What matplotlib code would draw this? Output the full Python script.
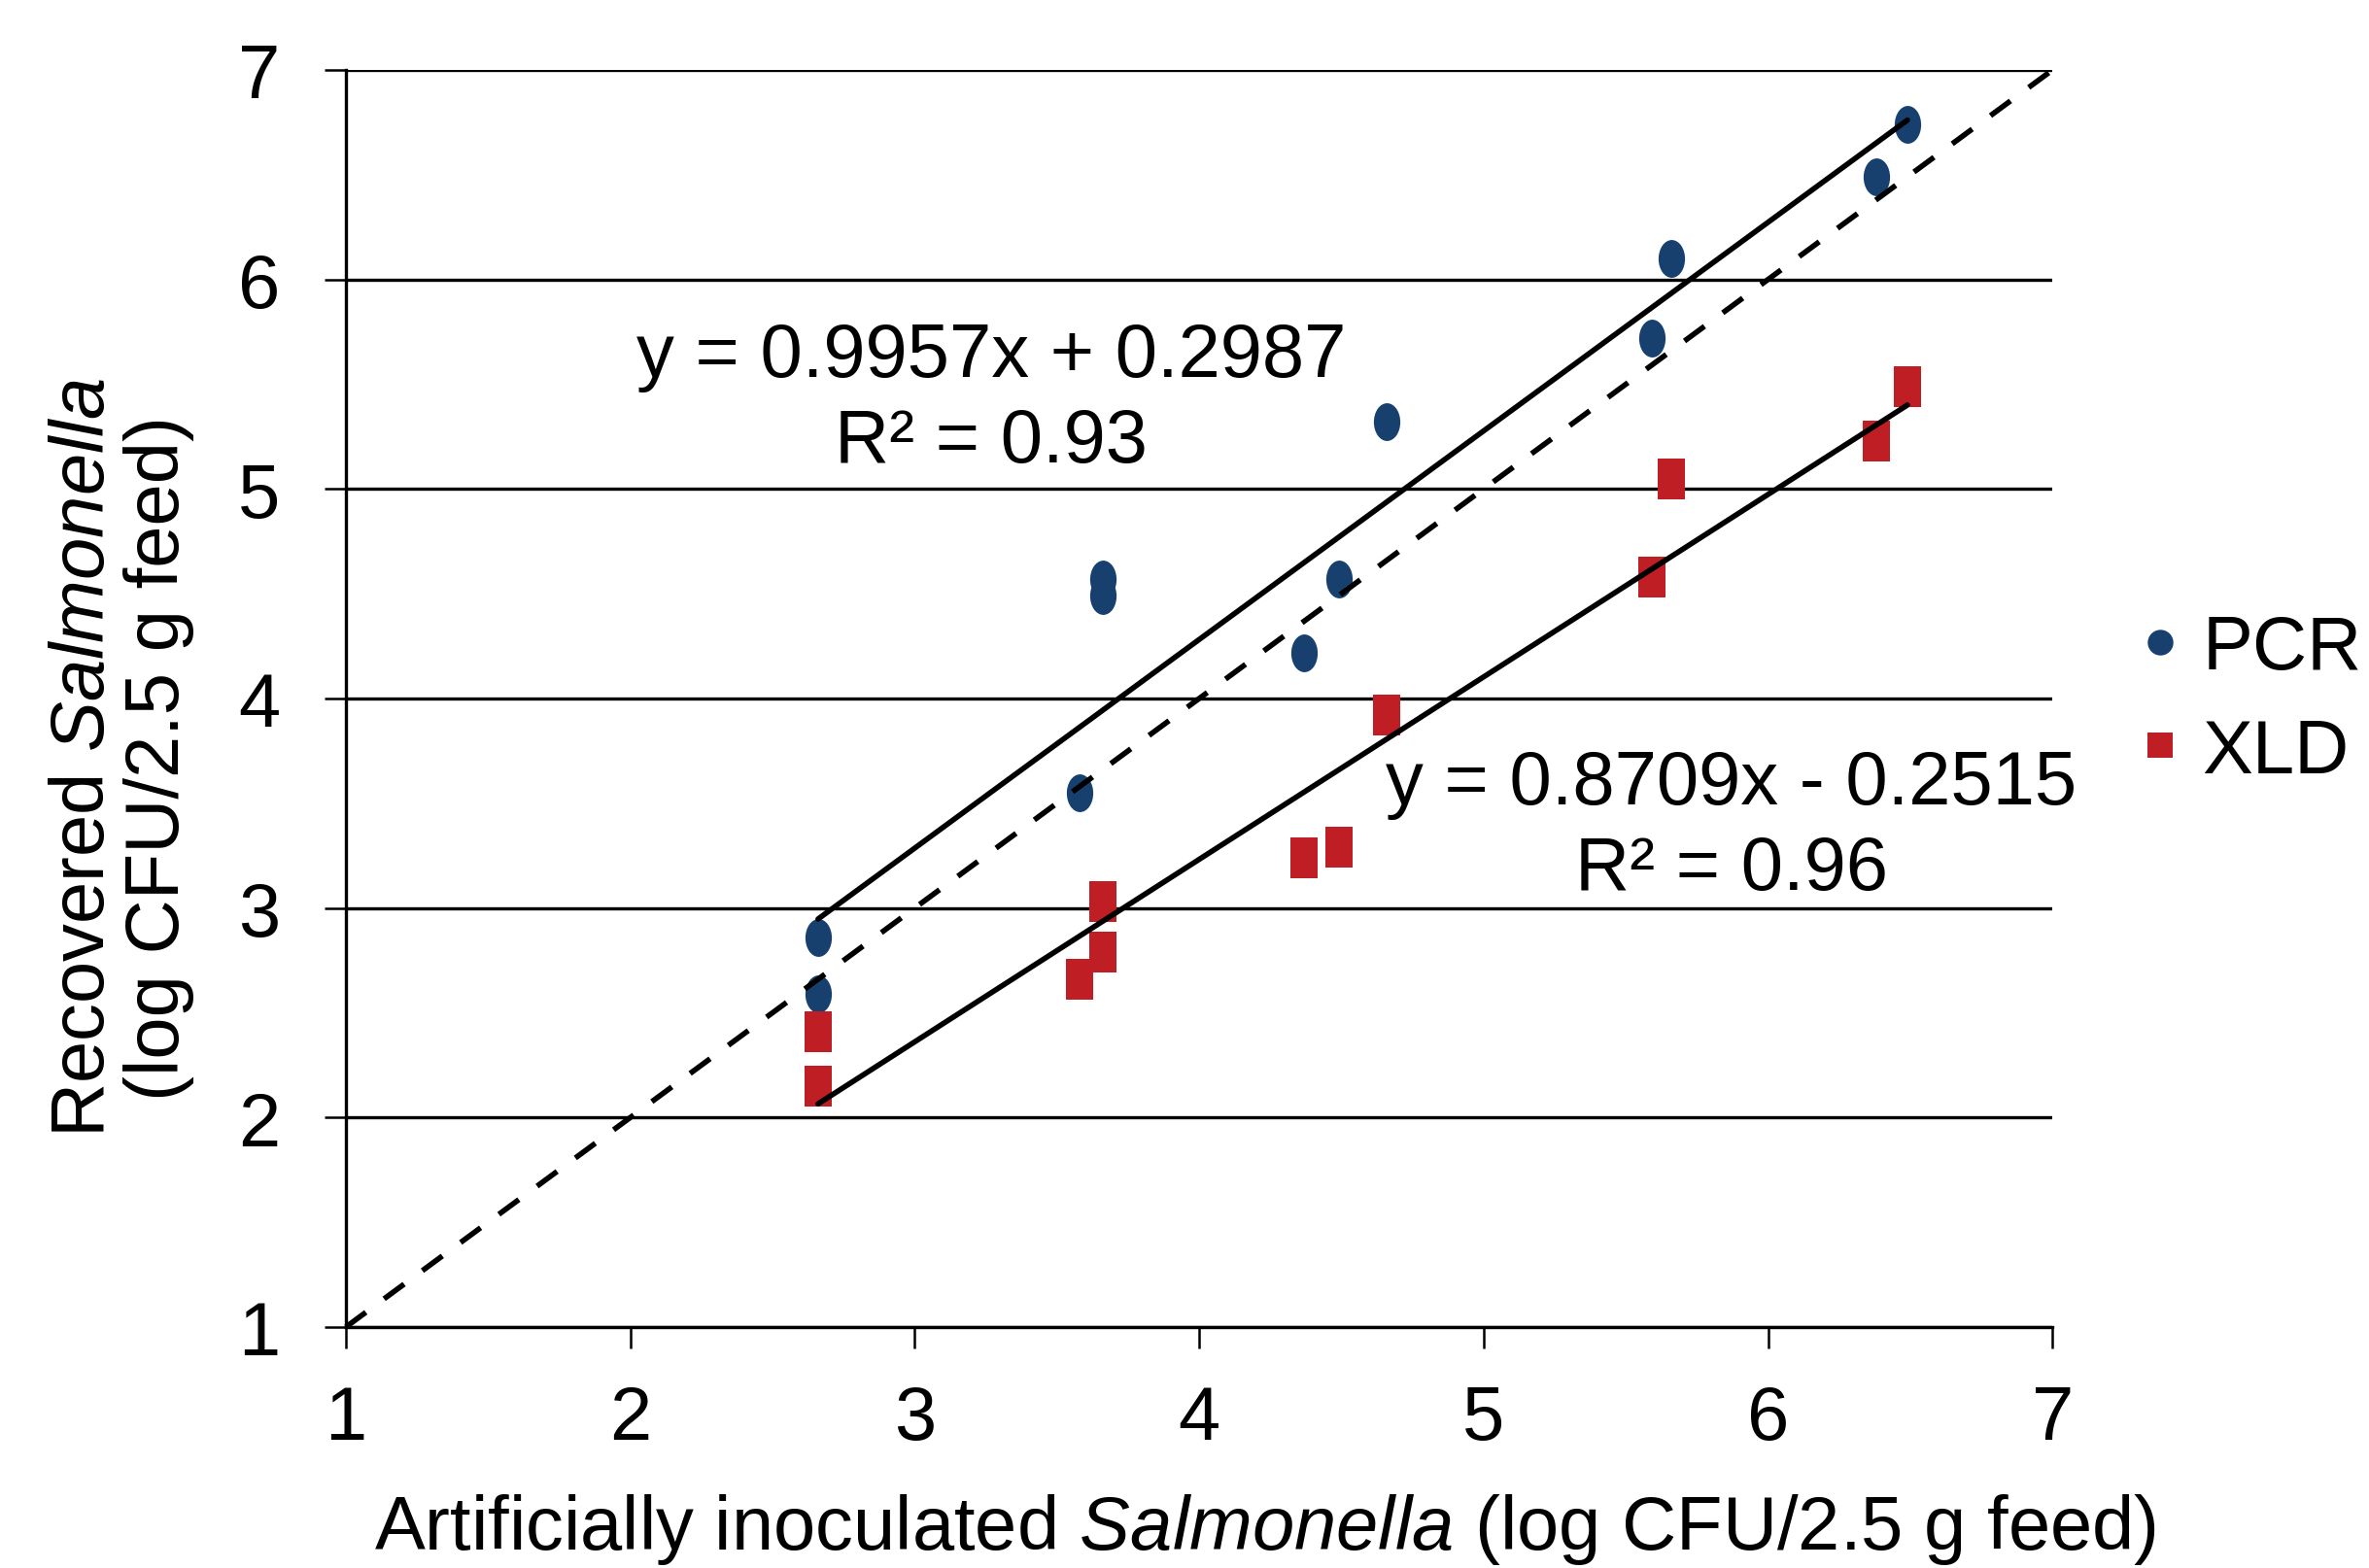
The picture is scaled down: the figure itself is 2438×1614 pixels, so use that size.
import matplotlib
matplotlib.use('Agg')
import matplotlib.pyplot as plt
from matplotlib.path import Path
from matplotlib.transforms import Affine2D
from matplotlib.lines import Line2D
import numpy as np

plt.rcParams['font.family'] = 'Liberation Sans'
plt.rcParams['mathtext.fontset'] = 'custom'
plt.rcParams['mathtext.rm'] = 'Liberation Sans'
plt.rcParams['mathtext.it'] = 'Liberation Sans:italic'

# data (log CFU / 2.5 g feed)
inoculated = [2.66, 2.66, 3.58, 3.66, 3.66, 4.37, 4.49, 4.66, 5.59, 5.66, 6.38, 6.49]
pcr = [2.86, 2.59, 3.55, 4.57, 4.49, 4.22, 4.57, 5.32, 5.72, 6.10, 6.49, 6.74]
xld = [2.41, 2.15, 2.66, 3.03, 2.79, 3.24, 3.29, 3.92, 4.58, 5.05, 5.23, 5.49]
pcr_fit = [0.9957, 0.2987]
xld_fit = [0.8709, -0.2515]
pcr_r2 = 0.93
xld_r2 = 0.96
ticks = [1, 2, 3, 4, 5, 6, 7]

pcr_color = '#17406F'
xld_color = '#BE1E24'
fs = 56

# markers in the reference are stretched vertically
ellipse = Path.unit_circle().transformed(Affine2D().scale(0.7, 1.0))
rect = Path([(-0.33, -0.5), (0.33, -0.5), (0.33, 0.5), (-0.33, 0.5), (-0.33, -0.5)],
            [Path.MOVETO, Path.LINETO, Path.LINETO, Path.LINETO, Path.CLOSEPOLY])

fig = plt.figure(figsize=(24.38, 16.15), dpi=100)
ax = fig.add_axes([0.146, 0.1536, 0.7204, 0.8012])

ax.set_xlim(1, 7)
ax.set_ylim(1, 7)
ax.set_xticks(ticks)
ax.set_yticks(ticks)
ax.yaxis.grid(True, color='black', linewidth=2.4, zorder=0)
ax.set_axisbelow(True)
for s in ['top', 'right']:
    ax.spines[s].set_visible(False)
for s in ['left', 'bottom']:
    ax.spines[s].set_linewidth(2.4)
ax.tick_params(axis='both', length=16, width=1.8, direction='out', labelsize=fs)
ax.tick_params(axis='x', pad=26)
ax.tick_params(axis='y', pad=33)

# 1:1 line
ax.plot([1, 7], [1, 7], color='black', lw=4, dashes=(4.6, 4.2), zorder=3, clip_on=False)

ax.plot(inoculated, pcr, linestyle='none', marker=ellipse, markersize=28,
        color=pcr_color, markeredgewidth=0, zorder=2)
ax.plot(inoculated, xld, linestyle='none', marker=rect, markersize=30,
        color=xld_color, markeredgewidth=0, zorder=2)

xs = np.array([min(inoculated), max(inoculated)])
ax.plot(xs, pcr_fit[0] * xs + pcr_fit[1], color='black', lw=4, solid_capstyle='round', zorder=3)
ax.plot(xs, xld_fit[0] * xs + xld_fit[1], color='black', lw=4, solid_capstyle='round', zorder=3)

ax.text(3.27, 5.43, 'y = %.4fx + %.4f\nR² = %.2f' % (pcr_fit[0], pcr_fit[1], pcr_r2),
        fontsize=fs, ha='center', va='center', multialignment='center', linespacing=1.25)
ax.text(5.87, 3.39, 'y = %.4fx - %.4f\nR² = %.2f' % (xld_fit[0], -xld_fit[1], xld_r2),
        fontsize=fs, ha='center', va='center', multialignment='center', linespacing=1.25)

fig.text(0.534, 0.025, r'Artificially inoculated $\mathit{Salmonella}$ (log CFU/2.5 g feed)',
         fontsize=fs, ha='center', va='center')
fig.text(0.0353, 0.517, r'Recovered $\mathit{Salmonella}$', fontsize=fs,
         rotation=90, ha='center', va='center')
fig.text(0.0669, 0.517, '(log CFU/2.5 g feed)', fontsize=fs,
         rotation=90, ha='center', va='center')

handles = [Line2D([], [], linestyle='none', marker='o', markersize=19, color=pcr_color, markeredgewidth=0),
           Line2D([], [], linestyle='none', marker='s', markersize=19, color=xld_color, markeredgewidth=0)]
fig.legend(handles, ['PCR', 'XLD'], loc='center left', bbox_to_anchor=(0.904, 0.553),
           frameon=False, fontsize=fs, handlelength=0.5, handletextpad=0.3,
           labelspacing=0.43, borderpad=0, borderaxespad=0)

fig.savefig('out.png', dpi=100)
